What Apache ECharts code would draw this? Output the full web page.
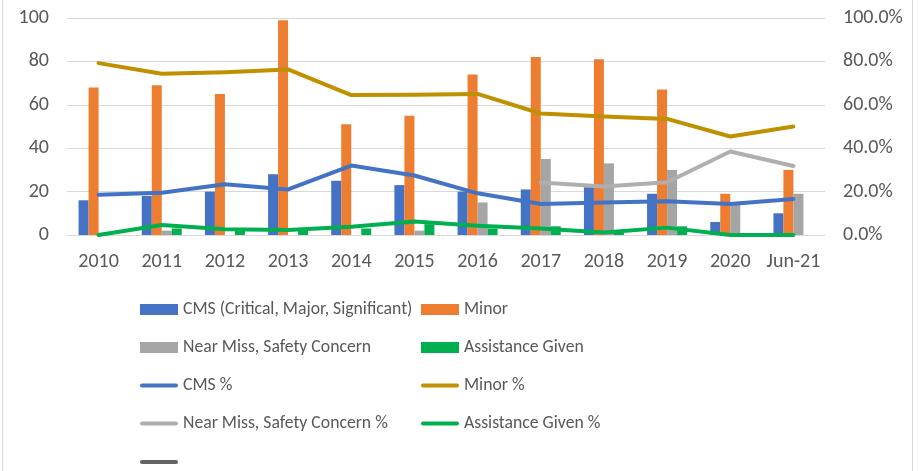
<!DOCTYPE html>
<html lang="en">
<head>
  <meta charset="UTF-8">
  <title>Incidents by year</title>
  <script src="https://cdn.jsdelivr.net/npm/echarts@6/dist/echarts.min.js"></script>
  <style>
    html, body { margin: 0; padding: 0; background: #fff; }
    #chart { width: 919px; height: 471px; }
  </style>
</head>
<body>
  <div id="chart"></div>
  <script>
    const years = ['2010', '2011', '2012', '2013', '2014', '2015', '2016', '2017', '2018', '2019', '2020', 'Jun-21']

    // counts (left axis)
    const cms = [16, 18, 20, 28, 25, 23, 20, 21, 22, 19, 6, 10]
    const minor = [68, 69, 65, 99, 51, 55, 74, 82, 81, 67, 19, 30]
    const nearMiss = [1, 2, 0, 0, 0, 2, 15, 35, 33, 30, 14, 19]
    const assistance = [0, 3, 2, 2, 3, 5, 3, 4, 1.5, 4, 0, 0]

    // shares in % (right axis)
    const cmsPct = [18.5, 19.5, 23.4, 21, 32, 27.4, 19.2, 14.3, 15, 15.5, 14.3, 16.6]
    const minorPct = [79.2, 74.3, 75, 76.3, 64.5, 64.6, 65, 56, 54.6, 53.5, 45.4, 50]
    const nearMissPct = [null, null, null, null, null, null, null, 24.2, 22.3, 24.3, 38.5, 31.8]
    const assistancePct = [0, 4.6, 2.6, 2.3, 3.8, 6.2, 4.3, 3, 1.2, 3.4, 0, 0]
    const blankPct = [null, null, null, null, null, null, null, null, null, null, null, null]

    const font = 'Carlito, Lato, "Liberation Sans", sans-serif'
    const txt = '#595959'
    const grid = '#d9d9d9'
    // flat line with round ends, used as legend icon of the line series
    const lineIcon = 'path://M2,0 L36,0 A2,2 0 0 1 36,4 L2,4 A2,2 0 0 1 2,0 Z'

    function bar (name, color, data) {
      return {
        name, type: 'bar', data, barWidth: 10, barGap: '0%',
        itemStyle: { color }, emphasis: { disabled: true }
      }
    }
    function line (name, color, data) {
      return {
        name, type: 'line', yAxisIndex: 1, data, symbol: 'none', showSymbol: false,
        lineStyle: { color, width: 4, cap: 'round', join: 'round' },
        itemStyle: { color }, emphasis: { disabled: true }, z: 3
      }
    }

    function legend (left, top, data) {
      return {
        orient: 'vertical', left, top, padding: 0, itemWidth: 38, itemHeight: 11, itemGap: 20,
        selectedMode: false, data,
        textStyle: { fontFamily: font, fontSize: 17.7, color: txt, lineHeight: 18 }
      }
    }

    const chart = echarts.init(document.getElementById('chart'), null, { renderer: 'canvas' })
    chart.setOption({
      animation: false,
      backgroundColor: '#fff',
      graphic: [
        { type: 'line', shape: { x1: 2.5, y1: 0, x2: 2.5, y2: 471 }, style: { stroke: grid, lineWidth: 1 } },
        { type: 'line', shape: { x1: 912.5, y1: 0, x2: 912.5, y2: 471 }, style: { stroke: grid, lineWidth: 1 } }
      ],
      grid: { left: 67, right: 94, top: 18, bottom: 236, containLabel: false },
      legend: [
        legend(140, 300.5, [
          { name: 'CMS (Critical, Major, Significant)', icon: 'rect' },
          { name: 'Near Miss, Safety Concern', icon: 'rect' },
          { name: 'CMS %', icon: lineIcon },
          { name: 'Near Miss, Safety Concern %', icon: lineIcon }
        ]),
        legend(421, 300.5, [
          { name: 'Minor', icon: 'rect' },
          { name: 'Assistance Given', icon: 'rect' },
          { name: 'Minor %', icon: lineIcon },
          { name: 'Assistance Given %', icon: lineIcon }
        ]),
        legend(140, 453, [{ name: ' ', icon: lineIcon }])
      ],
      xAxis: {
        type: 'category', data: years,
        axisLine: { lineStyle: { color: grid } },
        axisTick: { show: false },
        axisLabel: { fontFamily: font, fontSize: 20, color: txt, margin: 17, interval: 0 }
      },
      yAxis: [
        {
          type: 'value', min: 0, max: 100, interval: 20,
          axisLabel: { fontFamily: font, fontSize: 20, color: txt, margin: 18 },
          splitLine: { lineStyle: { color: grid } }
        },
        {
          type: 'value', min: 0, max: 100, interval: 20,
          axisLabel: { fontFamily: font, fontSize: 20, color: txt, margin: 18, formatter: v => v.toFixed(1) + '%' },
          splitLine: { show: false }
        }
      ],
      series: [
        bar('CMS (Critical, Major, Significant)', '#4472C4', cms),
        bar('Minor', '#ED7D31', minor),
        bar('Near Miss, Safety Concern', '#A5A5A5', nearMiss),
        bar('Assistance Given', '#00B050', assistance),
        line('CMS %', '#4472C4', cmsPct),
        line('Minor %', '#BF9000', minorPct),
        line('Near Miss, Safety Concern %', '#B0AEAE', nearMissPct),
        line('Assistance Given %', '#00B050', assistancePct),
        line(' ', '#636363', blankPct)
      ]
    })
  </script>
</body>
</html>
